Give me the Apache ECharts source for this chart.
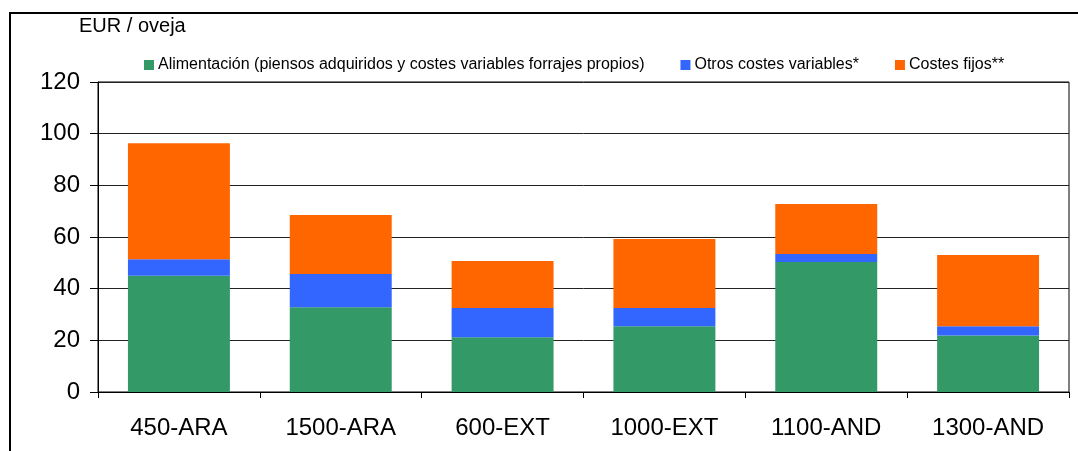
<!DOCTYPE html>
<html><head><meta charset="utf-8">
<script src="https://cdn.jsdelivr.net/npm/echarts@6/dist/echarts.min.js"></script>
<style>html,body{margin:0;padding:0;background:#fff}#c{width:1078px;height:451px}</style>
</head><body><div id="c"></div>
<script>
const categories = ['450-ARA','1500-ARA','600-EXT','1000-EXT','1100-AND','1300-AND'];
const seriesNames = ['Alimentación (piensos adquiridos y costes variables forrajes propios)','Otros costes variables*','Costes fijos**'];
const alimentacion = [45.0, 32.8, 21.2, 25.5, 50.3, 21.9];
const otrosVariables = [6.4, 12.9, 11.3, 7.0, 3.1, 3.6];
const costesFijos = [44.9, 22.8, 18.2, 26.7, 19.4, 27.5];
const colors = ['#339966','#3366FF','#FF6600'];
const yTitle = 'EUR / oveja';

const font = '"Liberation Sans", Arial, sans-serif';
const chart = echarts.init(document.getElementById('c'), null, {renderer:'canvas'});
const data = [alimentacion, otrosVariables, costesFijos];
chart.setOption({
  animation:false,
  backgroundColor:'#fff',
  graphic:[
    {type:'rect', shape:{x:10, y:13, width:1080, height:460}, style:{fill:'none', stroke:'#000', lineWidth:2}, silent:true},
    {type:'text', left:79, top:16, style:{text:yTitle, font:'20px '+font, fill:'#000'}}
  ],
  legend:{
    left:139, top:52, itemWidth:10, itemHeight:10, itemGap:36,
    icon:'rect',
    textStyle:{fontFamily:font, fontSize:16, color:'#000', padding:[0,0,0,-1]},
    data:seriesNames
  },
  grid:{left:98, right:9, top:82, bottom:59, show:true, borderColor:'#000', borderWidth:1, backgroundColor:'transparent'},
  xAxis:{
    type:'category', data:categories,
    axisLine:{lineStyle:{color:'#000', width:1}},
    axisTick:{show:true, length:6, alignWithLabel:false, lineStyle:{color:'#000'}},
    axisLabel:{fontFamily:font, fontSize:24, color:'#000', margin:24}
  },
  yAxis:{
    type:'value', min:0, max:120, interval:20,
    axisLine:{show:true, lineStyle:{color:'#000'}},
    axisTick:{show:true, length:8, lineStyle:{color:'#000'}},
    axisLabel:{fontFamily:font, fontSize:24, color:'#000', margin:18},
    splitLine:{lineStyle:{color:'#222', width:1}}
  },
  series: seriesNames.map((n,i)=>({
    name:n, type:'bar', stack:'total', data:data[i],
    barCategoryGap:'37%',
    itemStyle:{color:colors[i]}
  }))
});
</script></body></html>
